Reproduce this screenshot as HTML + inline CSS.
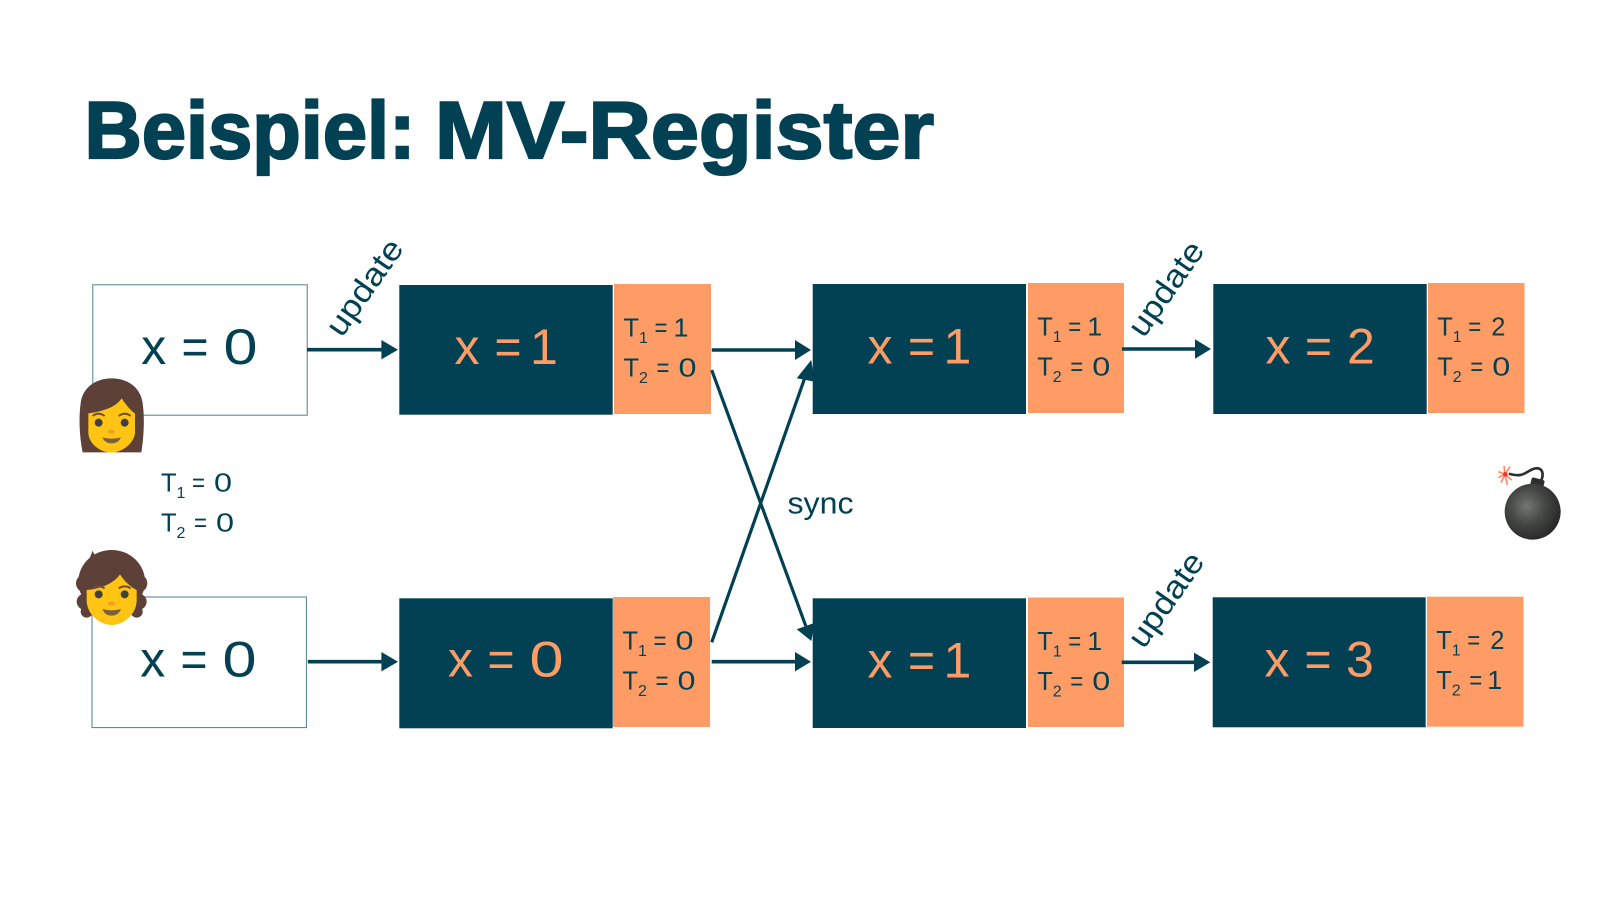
<!DOCTYPE html>
<html><head><meta charset="utf-8"><style>
html,body{margin:0;padding:0;background:#fff;width:1600px;height:900px;overflow:hidden}
svg{display:block}
text{font-family:"Liberation Sans",sans-serif;fill:#024153}
.o{fill:#FF9C66}
.b{font-size:50px}
.t{font-size:25.5px}
.s{font-size:16px}
.u{font-size:32px}
</style></head><body>
<svg width="1600" height="900" viewBox="0 0 1600 900" xmlns="http://www.w3.org/2000/svg">
<defs>
<radialGradient id="bg" cx="0.4" cy="0.4" r="0.6"><stop offset="0" stop-color="#72776f"/><stop offset="0.55" stop-color="#444644"/><stop offset="1" stop-color="#2a2a2a"/></radialGradient>
<g id="T1"><text class="t" x="0" y="0">T</text><text class="s" x="15.5" y="6.5">1</text><text class="t" x="31" y="0" textLength="13" lengthAdjust="spacingAndGlyphs">=</text></g>
<g id="T2"><text class="t" x="0" y="0">T</text><text class="s" x="15.5" y="6.5">2</text><text class="t" x="33" y="0" textLength="13" lengthAdjust="spacingAndGlyphs">=</text></g>
</defs>

<text x="84.5" y="158" font-size="81" font-weight="700" textLength="331" lengthAdjust="spacingAndGlyphs" style="stroke:#024153;stroke-width:2.2px">Beispiel:</text>
<text x="435" y="158" font-size="81" font-weight="700" textLength="499" lengthAdjust="spacingAndGlyphs" style="stroke:#024153;stroke-width:2.2px">MV-Register</text>

<!-- boxes -->
<rect x="92.8" y="284.8" width="214.4" height="130.4" fill="#fff" stroke="#4d7f8d" stroke-width="1"/>
<rect x="92" y="597" width="214.4" height="130.6" fill="#fff" stroke="#4d7f8d" stroke-width="1"/>

<rect x="399.3" y="285" width="213.4" height="129.7" fill="#024153"/>
<rect x="614" y="284" width="97" height="130" fill="#FF9C66"/>
<rect x="399.3" y="598.3" width="213.4" height="130" fill="#024153"/>
<rect x="613" y="597" width="97" height="130" fill="#FF9C66"/>
<rect x="812.7" y="284" width="213.3" height="130" fill="#024153"/>
<rect x="1028" y="283" width="96" height="130" fill="#FF9C66"/>
<rect x="812.7" y="598.3" width="213.3" height="129.7" fill="#024153"/>
<rect x="1028" y="597.5" width="96" height="129.5" fill="#FF9C66"/>
<rect x="1213.3" y="284" width="213.4" height="130" fill="#024153"/>
<rect x="1428" y="283" width="96.5" height="130" fill="#FF9C66"/>
<rect x="1212.7" y="597.3" width="213" height="130" fill="#024153"/>
<rect x="1427" y="596.7" width="96.5" height="130" fill="#FF9C66"/>

<!-- arrows -->
<g stroke="#024153" stroke-width="3.6" fill="none">
<line x1="307" y1="349.7" x2="383" y2="349.7"/>
<line x1="307.8" y1="661.7" x2="383" y2="661.7"/>
<line x1="711.7" y1="350" x2="797" y2="350"/>
<line x1="711.7" y1="661.7" x2="797" y2="661.7"/>
<line x1="1122" y1="349" x2="1197" y2="349"/>
<line x1="1121.7" y1="662.3" x2="1196" y2="662.3"/>
<line x1="711.7" y1="370" x2="805.8" y2="626" stroke-width="3.2"/>
<line x1="711.7" y1="642.3" x2="805.8" y2="375" stroke-width="3.2"/>
</g>
<g fill="#024153">
<polygon points="398,349.7 381.4,340 381.4,359.4"/>
<polygon points="398,661.7 381.4,652 381.4,671.4"/>
<polygon points="811,350 795,340 795,360"/>
<polygon points="811,661.7 795,652 795,671.4"/>
<polygon points="1211,349 1195,339.3 1195,358.7"/>
<polygon points="1210.3,662.3 1194,652.6 1194,672"/>
<polygon points="811.3,641 796.7,629.3 814.9,622.7"/>
<polygon points="811.2,360 796.7,378.3 814.9,381.7"/>
</g>

<!-- values -->
<text class="b" x="141.2" y="364">x</text><text class="b" x="181.5" y="364" textLength="27" lengthAdjust="spacingAndGlyphs">=</text><text class="b" x="223.5" y="364" textLength="34" lengthAdjust="spacingAndGlyphs">0</text>
<text class="b" x="140.2" y="676.7">x</text><text class="b" x="180.5" y="676.7" textLength="27" lengthAdjust="spacingAndGlyphs">=</text><text class="b" x="222.5" y="676.7" textLength="34" lengthAdjust="spacingAndGlyphs">0</text>

<text class="b o" x="454.5" y="364">x</text><text class="b o" x="494.5" y="364" textLength="27" lengthAdjust="spacingAndGlyphs">=</text><text class="b o" x="530" y="364">1</text>
<text class="b o" x="448" y="676.7">x</text><text class="b o" x="487.5" y="676.7" textLength="27" lengthAdjust="spacingAndGlyphs">=</text><text class="b o" x="529.5" y="676.7" textLength="34" lengthAdjust="spacingAndGlyphs">0</text>

<text class="b o" x="867.5" y="363.3">x</text><text class="b o" x="908" y="363.3" textLength="27" lengthAdjust="spacingAndGlyphs">=</text><text class="b o" x="943.5" y="363.3">1</text>
<text class="b o" x="867.5" y="677.3">x</text><text class="b o" x="908" y="677.3" textLength="27" lengthAdjust="spacingAndGlyphs">=</text><text class="b o" x="943.5" y="677.3">1</text>

<text class="b o" x="1265.5" y="363.3">x</text><text class="b o" x="1305" y="363.3" textLength="27" lengthAdjust="spacingAndGlyphs">=</text><text class="b o" x="1347" y="363.3">2</text>
<text class="b o" x="1264.5" y="676.7">x</text><text class="b o" x="1304.5" y="676.7" textLength="27" lengthAdjust="spacingAndGlyphs">=</text><text class="b o" x="1346" y="676.7">3</text>

<!-- T labels -->
<g transform="translate(161,491.7)"><use href="#T1"/><text class="t" x="53" y="0" textLength="18" lengthAdjust="spacingAndGlyphs">0</text></g>
<g transform="translate(161,531.7)"><use href="#T2"/><text class="t" x="55" y="0" textLength="18" lengthAdjust="spacingAndGlyphs">0</text></g>

<g transform="translate(623.5,336.7)"><use href="#T1"/><text class="t" x="50" y="0" textLength="15" lengthAdjust="spacingAndGlyphs">1</text></g>
<g transform="translate(623.5,376.7)"><use href="#T2"/><text class="t" x="55" y="0" textLength="18" lengthAdjust="spacingAndGlyphs">0</text></g>
<g transform="translate(622.5,649.3)"><use href="#T1"/><text class="t" x="53" y="0" textLength="18" lengthAdjust="spacingAndGlyphs">0</text></g>
<g transform="translate(622.5,689.3)"><use href="#T2"/><text class="t" x="55" y="0" textLength="18" lengthAdjust="spacingAndGlyphs">0</text></g>

<g transform="translate(1037.3,335.7)"><use href="#T1"/><text class="t" x="50" y="0" textLength="15" lengthAdjust="spacingAndGlyphs">1</text></g>
<g transform="translate(1037.3,375.7)"><use href="#T2"/><text class="t" x="55" y="0" textLength="18" lengthAdjust="spacingAndGlyphs">0</text></g>
<g transform="translate(1037.3,650)"><use href="#T1"/><text class="t" x="50" y="0" textLength="15" lengthAdjust="spacingAndGlyphs">1</text></g>
<g transform="translate(1037.3,690)"><use href="#T2"/><text class="t" x="55" y="0" textLength="18" lengthAdjust="spacingAndGlyphs">0</text></g>

<g transform="translate(1437.3,335.7)"><use href="#T1"/><text class="t" x="54" y="0">2</text></g>
<g transform="translate(1437.3,375.7)"><use href="#T2"/><text class="t" x="55" y="0" textLength="18" lengthAdjust="spacingAndGlyphs">0</text></g>
<g transform="translate(1436.3,649)"><use href="#T1"/><text class="t" x="54" y="0">2</text></g>
<g transform="translate(1436.3,689)"><use href="#T2"/><text class="t" x="51" y="0" textLength="15" lengthAdjust="spacingAndGlyphs">1</text></g>

<!-- free labels -->
<text x="787.5" y="513.3" font-size="31" textLength="66" lengthAdjust="spacingAndGlyphs">sync</text>
<text class="u" transform="translate(341.7,338.5) rotate(-55)" textLength="110" lengthAdjust="spacingAndGlyphs">update</text>
<text class="u" transform="translate(1143.7,339) rotate(-55)" textLength="108" lengthAdjust="spacingAndGlyphs">update</text>
<text class="u" transform="translate(1143.7,650) rotate(-55)" textLength="108" lengthAdjust="spacingAndGlyphs">update</text>

<!-- woman -->
<g transform="translate(70,370) scale(0.3333)">
<path d="M38 247 C28 200 26 140 32 100 C38 50 80 25 125 25 C170 25 212 50 218 100 C224 140 222 200 214 247 Z" fill="#5D4037"/>
<path d="M55 130 C90 125 135 115 155 85 C168 105 182 122 195 130 L195 190 C190 225 150 248 125 248 C95 248 58 225 55 190 Z" fill="#FFC414"/>
<circle cx="86" cy="158" r="12" fill="#404040"/><circle cx="164" cy="158" r="12" fill="#404040"/>
<path d="M68 138 Q85 124 104 138 M146 138 Q165 124 182 138" stroke="#6D4C41" stroke-width="6" fill="none"/>
<ellipse cx="124" cy="185" rx="11" ry="6" fill="#F0A020"/>
<path d="M97 202 Q125 210 153 202 Q145 220 125 220 Q105 220 97 202 Z" fill="#7B6040"/>
</g>

<!-- person -->
<g transform="translate(70,545) scale(0.3333)">
<g fill="#5D4037">
<ellipse cx="125" cy="110" rx="100" ry="95"/>
<circle cx="46" cy="115" r="28"/><circle cx="204" cy="115" r="28"/>
<circle cx="44" cy="170" r="24"/><circle cx="206" cy="170" r="24"/>
<circle cx="50" cy="200" r="18"/><circle cx="200" cy="200" r="18"/>
<path d="M68 17 C72 32 85 38 110 25 L110 70 L48 70 C48 50 60 40 62 32 Z"/>
</g>
<path d="M50 135 C85 132 130 118 150 88 C165 112 185 128 200 135 L200 170 C197 210 160 240 125 240 C90 240 53 210 50 170 Z" fill="#FFC414"/>
<circle cx="86" cy="148" r="12" fill="#404040"/><circle cx="164" cy="148" r="12" fill="#404040"/>
<path d="M68 130 Q85 118 104 130 M146 130 Q165 118 182 130" stroke="#6D4C41" stroke-width="6" fill="none"/>
<ellipse cx="124" cy="176" rx="11" ry="6" fill="#F0A020"/>
<path d="M97 192 Q125 200 153 192 Q145 212 125 212 Q105 212 97 192 Z" fill="#7B6040"/>
</g>

<!-- bomb -->
<g transform="translate(1490,460) scale(0.3333)">
<path d="M146 72 C165 50 160 22 138 25 C112 28 105 55 60 42" stroke="#2e2e2e" stroke-width="8" fill="none" stroke-linecap="round"/>
<rect x="122" y="56" width="40" height="30" rx="6" transform="rotate(15 142 70)" fill="#2e2e2e"/>
<circle cx="128" cy="155" r="84" fill="url(#bg)"/>
<g stroke="#FF8A65" stroke-width="5">
<line x1="45" y1="43" x2="25" y2="35"/><line x1="45" y1="43" x2="25" y2="52"/><line x1="45" y1="43" x2="33" y2="68"/><line x1="45" y1="43" x2="52" y2="75"/><line x1="45" y1="43" x2="42" y2="18"/><line x1="45" y1="43" x2="60" y2="20"/><line x1="45" y1="43" x2="65" y2="60"/>
</g>
<circle cx="46" cy="43" r="7" fill="#E53935"/>
</g>
</svg>
</body></html>
